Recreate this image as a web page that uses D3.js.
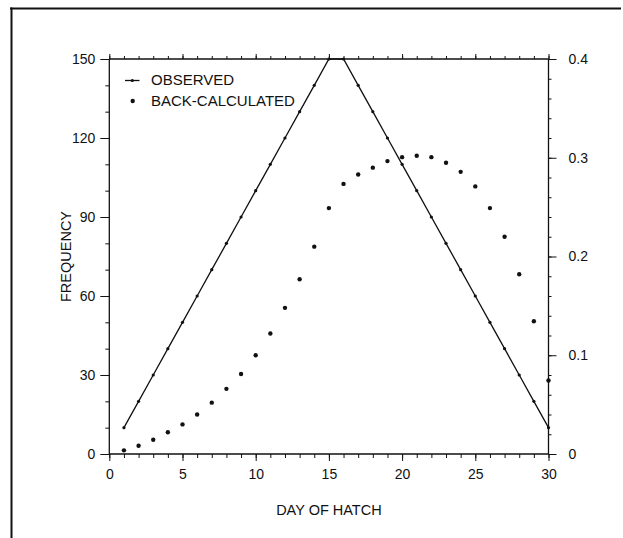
<!DOCTYPE html>
<html>
<head>
<meta charset="utf-8">
<script src="https://cdn.jsdelivr.net/npm/d3@7"></script>
<style>
  html, body { margin: 0; padding: 0; background: #fff; }
  svg { display: block; font-family: "Liberation Sans", Arial, sans-serif; }
</style>
</head>
<body>
<svg id="chart" width="623" height="538"></svg>
<script>
// ---- data ----
const days = [1,2,3,4,5,6,7,8,9,10,11,12,13,14,15,16,17,18,19,20,21,22,23,24,25,26,27,28,29,30];
const observed = [10,20,30,40,50,60,70,80,90,100,110,120,130,140,150,150,140,130,120,110,100,90,80,70,60,50,40,30,20,10];
const backCalculated = [0.0037,0.0084,0.0145,0.022,0.030,0.040,0.052,0.066,0.081,0.100,0.122,0.148,0.177,0.210,0.249,
                        0.2735,0.283,0.290,0.2966,0.3006,0.302,0.3006,0.295,0.2857,0.271,0.249,0.220,0.182,0.1345,0.0745];
const xTicks = [0,5,10,15,20,25,30];
const leftTicks = [0,30,60,90,120,150];
const rightTicks = [0,0.1,0.2,0.3,0.4];
const rightTickLabels = ["0","0.1","0.2","0.3","0.4"];
const legendLabels = ["OBSERVED","BACK-CALCULATED"];

// ---- layout ----
const svg = d3.select("#chart");
const X0 = 109.3, X1 = 548.5, Y0 = 454, Y1 = 59;
const x = d3.scaleLinear().domain([0,30]).range([X0,X1]);
const yL = d3.scaleLinear().domain([0,150]).range([Y0,Y1]);
const yR = d3.scaleLinear().domain([0,0.4]).range([Y0,Y1]);

// frame
svg.append("line").attr("x1",10).attr("x2",621).attr("y1",8.5).attr("y2",8.5).attr("stroke","#111").attr("stroke-width",2);
svg.append("line").attr("x1",11.5).attr("x2",11.5).attr("y1",7.5).attr("y2",538).attr("stroke","#111").attr("stroke-width",2);

function styleAxis(g){
  g.selectAll(".domain").remove();
  g.selectAll(".tick line").attr("stroke","#111").attr("stroke-width",1);
  g.selectAll(".tick text").attr("fill","#111").style("font-size","14px").style("font-family","'Liberation Sans', Arial, sans-serif");
}

// bottom axis: minor + major
svg.append("g").attr("transform",`translate(0,${Y0})`)
  .call(d3.axisBottom(x).tickValues(d3.range(0,31,1)).tickSize(4).tickFormat(""))
  .call(styleAxis);
svg.append("g").attr("transform",`translate(0,${Y0})`)
  .call(d3.axisBottom(x).tickValues(xTicks).tickSize(7).tickPadding(8).tickFormat(d3.format("d")))
  .call(styleAxis);
// top axis
svg.append("g").attr("transform",`translate(0,${Y1})`)
  .call(d3.axisTop(x).tickValues(d3.range(0,31,1)).tickSize(3).tickFormat(""))
  .call(styleAxis);
svg.append("g").attr("transform",`translate(0,${Y1})`)
  .call(d3.axisTop(x).tickValues(xTicks).tickSize(5).tickFormat(""))
  .call(styleAxis);
// left axis
svg.append("g").attr("transform",`translate(${X0},0)`)
  .call(d3.axisLeft(yL).tickValues(d3.range(0,151,10)).tickSize(4).tickFormat(""))
  .call(styleAxis);
svg.append("g").attr("transform",`translate(${X0},0)`)
  .call(d3.axisLeft(yL).tickValues(leftTicks).tickSize(9).tickPadding(5).tickFormat(d3.format("d")))
  .call(styleAxis);
// right axis
svg.append("g").attr("transform",`translate(${X1},0)`)
  .call(d3.axisRight(yR).tickValues(d3.range(0,0.401,0.02)).tickSize(3).tickFormat(""))
  .call(styleAxis);
svg.append("g").attr("transform",`translate(${X1},0)`)
  .call(d3.axisRight(yR).tickValues(rightTicks).tickSize(8).tickPadding(12).tickFormat((d,i)=>rightTickLabels[i]))
  .call(styleAxis);

// axis lines
const axisG = svg.append("g").attr("stroke","#111").attr("stroke-width",1.3);
axisG.append("line").attr("x1",X0).attr("x2",X1).attr("y1",Y0).attr("y2",Y0);
axisG.append("line").attr("x1",X0).attr("x2",X1).attr("y1",Y1).attr("y2",Y1);
axisG.append("line").attr("x1",X0).attr("x2",X0).attr("y1",Y1).attr("y2",Y0);
axisG.append("line").attr("x1",X1).attr("x2",X1).attr("y1",Y1).attr("y2",Y0);

// axis titles
svg.append("text").attr("x",(X0+X1)/2).attr("y",515).attr("text-anchor","middle")
  .style("font-size","14.5px").attr("fill","#111").text("DAY OF HATCH");
svg.append("text").attr("transform",`translate(71,${(Y0+Y1)/2}) rotate(-90)`).attr("text-anchor","middle")
  .style("font-size","14.5px").attr("fill","#111").text("FREQUENCY");

// observed line
const line = d3.line().x((d,i)=>x(days[i])).y(d=>yL(d));
svg.append("path").datum(observed).attr("d",line).attr("fill","none").attr("stroke","#111").attr("stroke-width",1.3);
svg.append("g").selectAll("circle").data(observed).join("circle")
  .attr("cx",(d,i)=>x(days[i])).attr("cy",d=>yL(d)).attr("r",1.6).attr("fill","#111");

// back-calculated dots
svg.append("g").selectAll("circle").data(backCalculated).join("circle")
  .attr("cx",(d,i)=>x(days[i])).attr("cy",d=>yR(d)).attr("r",2.2).attr("fill","#111");

// legend
const lg = svg.append("g");
lg.append("line").attr("x1",125).attr("x2",139.5).attr("y1",80.5).attr("y2",80.5).attr("stroke","#111").attr("stroke-width",1.3);
lg.append("circle").attr("cx",132.3).attr("cy",80.5).attr("r",1.6).attr("fill","#111");
lg.append("text").attr("x",151).attr("y",85).style("font-size","15px").attr("fill","#111").text(legendLabels[0]);
lg.append("circle").attr("cx",132.7).attr("cy",101).attr("r",2.2).attr("fill","#111");
lg.append("text").attr("x",151).attr("y",106).style("font-size","15px").attr("fill","#111").text(legendLabels[1]);
</script>
</body>
</html>
